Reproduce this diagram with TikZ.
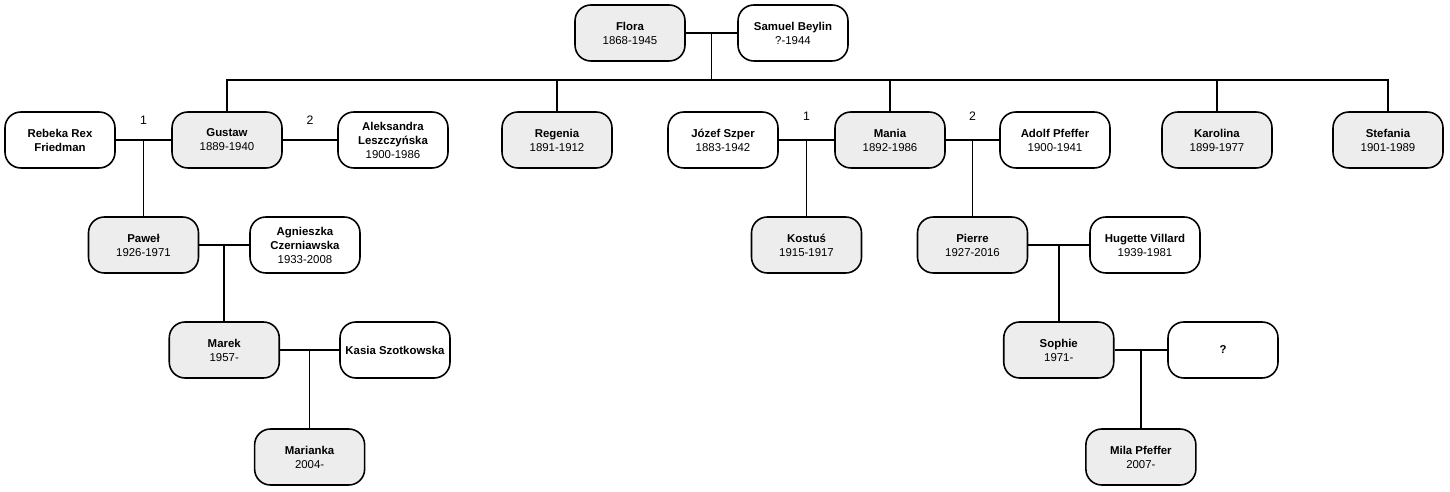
\documentclass[tikz,border=0pt]{standalone}
\usepackage{fontspec}
\setmainfont{Liberation Sans}
\usetikzlibrary{calc}
\tikzset{
  person/.style={draw, line width=0.9pt, rounded corners=9pt, minimum width=2.2cm,
    minimum height=1.12cm, align=center, font=\fontsize{6.5}{8}\selectfont, inner sep=1pt},
  kin/.style={person, fill=gray!14},
  wed/.style={person, fill=white},
  link/.style={line width=0.9pt},
  num/.style={font=\fontsize{7}{8}\selectfont}
}
\newcommand{\who}[2]{\textbf{#1}\\#2}
\begin{document}
\begin{tikzpicture}[x=0.02cm,y=-0.02cm]
\useasboundingbox (0,0) rectangle (1450,492);

% generation 1
\node[kin] (flora) at (630,33) {\who{Flora}{1868-1945}};
\node[wed] (samuel) at (793,33) {\who{Samuel Beylin}{?-1944}};

% generation 2
\node[wed] (rebeka) at (60,140) {\textbf{Rebeka Rex}\\\textbf{Friedman}};
\node[kin] (gustaw) at (227,140) {\who{Gustaw}{1889-1940}};
\node[wed] (aleks) at (393,140) {\textbf{Aleksandra}\\\who{Leszczyńska}{1900-1986}};
\node[kin] (regenia) at (557,140) {\who{Regenia}{1891-1912}};
\node[wed] (jozef) at (723,140) {\who{Józef Szper}{1883-1942}};
\node[kin] (mania) at (890,140) {\who{Mania}{1892-1986}};
\node[wed] (adolf) at (1055,140) {\who{Adolf Pfeffer}{1900-1941}};
\node[kin] (karolina) at (1217,140) {\who{Karolina}{1899-1977}};
\node[kin] (stefania) at (1388,140) {\who{Stefania}{1901-1989}};

% marriages
\coordinate (m0) at ($(flora)!.5!(samuel)$);
\coordinate (bar) at (m0 |- 0,80);
\coordinate (m1) at ($(rebeka)!.5!(gustaw)$);
\coordinate (m2) at ($(gustaw)!.5!(aleks)$);
\coordinate (m3) at ($(jozef)!.5!(mania)$);
\coordinate (m4) at ($(mania)!.5!(adolf)$);

\node[num] (n1) at ($(m1)+(0,-20)$) {1};
\node[num] (n2) at ($(m2)+(0,-20)$) {2};
\node[num] (n3) at ($(m3)+(0,-24)$) {1};
\node[num] (n4) at ($(m4)+(0,-24)$) {2};

% generation 3
\node[kin] (pawel) at (m1 |- 0,245) {\who{Paweł}{1926-1971}};
\node[wed] (agn) at (305,245) {\textbf{Agnieszka}\\\who{Czerniawska}{1933-2008}};
\node[kin] (kostus) at (m3 |- 0,245) {\who{Kostuś}{1915-1917}};
\node[kin] (pierre) at (m4 |- 0,245) {\who{Pierre}{1927-2016}};
\node[wed] (hugette) at (1145,245) {\who{Hugette Villard}{1939-1981}};

\coordinate (m5) at ($(pawel)!.5!(agn)$);
\coordinate (m6) at ($(pierre)!.5!(hugette)$);

% generation 4
\node[kin] (marek) at (m5 |- 0,350) {\who{Marek}{1957-}};
\node[wed] (kasia) at (395,350) {\textbf{Kasia Szotkowska}};
\node[kin] (sophie) at (m6 |- 0,350) {\who{Sophie}{1971-}};
\node[wed] (unknown) at (1223,350) {\textbf{?}};

\coordinate (m7) at ($(marek)!.5!(kasia)$);
\coordinate (m8) at ($(sophie)!.5!(unknown)$);

% generation 5
\node[kin] (marianka) at (m7 |- 0,457) {\who{Marianka}{2004-}};
\node[kin] (mila) at (m8 |- 0,457) {\who{Mila Pfeffer}{2007-}};

% connectors
\draw[link] (flora) -- (samuel);
\draw[link] (m0) -- (bar);
\foreach \c in {gustaw,regenia,mania,karolina,stefania}
  \draw[link] (\c.north) |- (bar);
\draw[link] (rebeka) -- (gustaw);
\draw[link] (gustaw) -- (aleks);
\draw[link] (jozef) -- (mania);
\draw[link] (mania) -- (adolf);
\draw[link] (pawel) -- (agn);
\draw[link] (pierre) -- (hugette);
\draw[link] (marek) -- (kasia);
\draw[link] (sophie) -- (unknown);
\draw[link] (m1) -- (pawel);
\draw[link] (m3) -- (kostus);
\draw[link] (m4) -- (pierre);
\draw[link] (m5) -- (marek);
\draw[link] (m6) -- (sophie);
\draw[link] (m7) -- (marianka);
\draw[link] (m8) -- (mila);
\end{tikzpicture}
\end{document}
